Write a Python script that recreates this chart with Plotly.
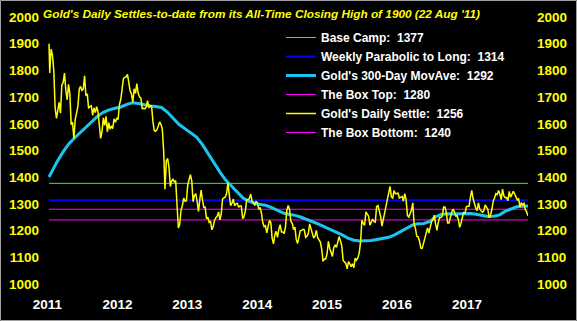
import plotly.graph_objects as go
import pandas as pd

# ---------------- data ----------------
start_date = "2011-08-22"
end_date = "2018-06-29"

# Gold settles: first value = all-time closing high (22 Aug 2011), then weekly (Fridays)
gold_2011 = [1900, 1790, 1880, 1857, 1800, 1660, 1620, 1645, 1680, 1640, 1745,
             1755, 1790, 1725, 1690, 1748, 1712, 1597, 1606, 1545]
gold_2012 = [1617, 1640, 1665, 1730, 1740, 1725, 1730, 1780, 1705, 1712, 1658, 1665, 1668,
             1632, 1660, 1642, 1664, 1645, 1580, 1545, 1572, 1622, 1594, 1628, 1570, 1604,
             1580, 1592, 1582, 1619, 1606, 1620, 1616, 1672, 1691, 1737, 1770, 1774, 1776,
             1785, 1759, 1723, 1712, 1680, 1731, 1714, 1751, 1714, 1701, 1696, 1657, 1658]
gold_2013 = [1656, 1662, 1687, 1660, 1669, 1667, 1609, 1575, 1572, 1578, 1592, 1607, 1598,
             1581, 1501, 1355, 1462, 1470, 1437, 1365, 1386, 1392, 1383, 1387, 1297, 1210,
             1223, 1277, 1294, 1322, 1310, 1312, 1371, 1398, 1410, 1386, 1308, 1333, 1337,
             1310, 1272, 1315, 1352, 1315, 1287, 1288, 1244, 1250, 1231, 1236, 1203, 1214]
gold_2014 = [1238, 1248, 1254, 1270, 1240, 1262, 1318, 1323, 1326, 1339, 1379, 1334, 1293,
             1303, 1318, 1293, 1300, 1302, 1287, 1293, 1292, 1245, 1252, 1274, 1316, 1316,
             1320, 1337, 1310, 1307, 1294, 1309, 1305, 1280, 1287, 1266, 1230, 1215, 1218,
             1192, 1222, 1238, 1231, 1171, 1150, 1185, 1197, 1175, 1205, 1222, 1195, 1195]
gold_2015 = [1189, 1216, 1277, 1294, 1279, 1234, 1227, 1204, 1213, 1167, 1152, 1182, 1199,
             1201, 1205, 1203, 1175, 1179, 1189, 1225, 1205, 1190, 1172, 1180, 1201, 1173,
             1164, 1157, 1131, 1085, 1094, 1094, 1113, 1160, 1134, 1121, 1103, 1137, 1145,
             1137, 1156, 1177, 1162, 1142, 1088, 1081, 1077, 1057, 1084, 1075, 1065, 1076]
gold_2016 = [1061, 1097, 1089, 1098, 1116, 1157, 1239, 1227, 1220, 1270, 1259, 1254, 1220,
             1234, 1243, 1234, 1232, 1290, 1294, 1273, 1253, 1217, 1243, 1275, 1297, 1322,
             1340, 1366, 1326, 1322, 1350, 1338, 1339, 1340, 1322, 1324, 1328, 1310, 1338,
             1316, 1257, 1251, 1267, 1276, 1304, 1224, 1207, 1178, 1177, 1161, 1134, 1133, 1152]
gold_2017 = [1173, 1197, 1210, 1191, 1220, 1234, 1239, 1258, 1226, 1201, 1230, 1249, 1249,
             1254, 1288, 1288, 1268, 1228, 1228, 1255, 1268, 1280, 1271, 1255, 1256, 1242,
             1212, 1228, 1254, 1269, 1264, 1290, 1291, 1291, 1325, 1351, 1320, 1297, 1284,
             1275, 1304, 1280, 1272, 1269, 1274, 1296, 1288, 1280, 1248, 1257, 1278, 1309]
gold_2018 = [1322, 1338, 1335, 1350, 1337, 1316, 1355, 1330, 1323, 1324, 1312, 1347, 1325,
             1335, 1347, 1338, 1323, 1315, 1320, 1289, 1303, 1298, 1302, 1278, 1270, 1256]

# 300-day moving average: start, first of each month Sep 2011 .. Jun 2018, end
movave = [1401,
          1415, 1455, 1492, 1523,
          1546, 1567, 1589, 1610, 1628, 1643, 1652, 1658, 1663, 1673, 1679, 1676,
          1671, 1667, 1665, 1661, 1644, 1622, 1598, 1582, 1567, 1550, 1522, 1488,
          1451, 1418, 1390, 1366, 1343, 1322, 1310, 1301, 1298, 1294, 1285, 1275,
          1265, 1260, 1257, 1250, 1242, 1233, 1224, 1214, 1204, 1195, 1184, 1172,
          1164, 1161, 1161, 1163, 1167, 1171, 1175, 1184, 1196, 1208, 1220, 1226,
          1227, 1234, 1251, 1260, 1263, 1262, 1262, 1263, 1264, 1261, 1257, 1253,
          1254, 1259, 1272, 1282, 1289, 1291,
          1292]

base_camp = 1377
weekly_parabolic = 1314
box_top = 1280
box_bottom = 1240
gold_last = 1256
movave_last = 1292
all_time_high = 1900

year_labels = ["2011", "2012", "2013", "2014", "2015", "2016", "2017"]
tick_day = "-08-14"

# ---------------- build ----------------
gold = gold_2011 + gold_2012 + gold_2013 + gold_2014 + gold_2015 + gold_2016 + gold_2017 + gold_2018
weekly = pd.date_range("2011-08-26", end_date, freq="W-FRI")
gold_dates = [start_date] + [d.strftime("%Y-%m-%d") for d in weekly]
assert len(gold) == len(gold_dates), (len(gold), len(gold_dates))

monthly = pd.date_range("2011-09-01", "2018-06-01", freq="MS")
ma_dates = [start_date] + [d.strftime("%Y-%m-%d") for d in monthly] + [end_date]
assert len(ma_dates) == len(movave), (len(ma_dates), len(movave))

W, H = 577, 321
L, R, T, B = 46, 528, 17, 284
data_left_px = 49
days_total = (pd.Timestamp(end_date) - pd.Timestamp(start_date)).days
px_per_day = (R - data_left_px) / days_total
x_range_start = (pd.Timestamp(start_date)
                 - pd.Timedelta(hours=round(24 * (data_left_px - L) / px_per_day))).strftime("%Y-%m-%d %H:%M:%S")

def px_x(p):
    return (p - L) / (R - L)

def px_y(p):
    return (B - p) / (B - T)

FONT = "Liberation Sans, Arial, sans-serif"

fig = go.Figure()
span = [start_date, end_date]

def hline(val, name, color, width, rank):
    fig.add_trace(go.Scatter(x=span, y=[val, val], mode="lines", name=name,
                             line=dict(color=color, width=width), legendrank=rank,
                             hoverinfo="skip"))

hline(base_camp, f"Base Camp:\u00a0 {base_camp}", "#22FF22", 1, 1)
hline(weekly_parabolic, f"Weekly Parabolic to Long:\u00a0 {weekly_parabolic}", "#0000FF", 2, 2)
hline(box_top, f"The Box Top:\u00a0 {box_top}", "#FF00FF", 1, 4)
hline(box_bottom, f"The Box Bottom:\u00a0 {box_bottom}", "#FF00FF", 1, 6)

fig.add_trace(go.Scatter(x=ma_dates, y=movave, mode="lines",
                         name=f"Gold's 300-Day MovAve:\u00a0 {movave_last}",
                         line=dict(color="#19C6F2", width=3), legendrank=3))
fig.add_trace(go.Scatter(x=gold_dates, y=gold, mode="lines",
                         name=f"Gold's Daily Settle:\u00a0 {gold_last}",
                         line=dict(color="#FFFF00", width=1.5), legendrank=5))
# invisible trace on yaxis2 so the right axis draws
fig.add_trace(go.Scatter(x=[start_date], y=[1000], yaxis="y2", mode="markers",
                         marker=dict(opacity=0), showlegend=False, hoverinfo="skip"))

ytick_font = dict(family=FONT, size=13.5, color="#FFFF00", weight="bold")

fig.update_layout(
    width=W, height=H, autosize=False,
    margin=dict(l=L, r=W - R, t=T, b=H - B, pad=0, autoexpand=False),
    paper_bgcolor="black", plot_bgcolor="black",
    showlegend=True,
    legend=dict(x=px_x(281), y=px_y(23),
                xanchor="left", yanchor="top", bgcolor="rgba(0,0,0,0)",
                font=dict(family=FONT, size=12, color="white", weight="bold"),
                borderwidth=0),
    xaxis=dict(type="date", range=[x_range_start, end_date],
               tickvals=[y + tick_day for y in year_labels], ticktext=year_labels,
               showgrid=False, zeroline=False, showline=False, ticks="",
               tickfont=dict(family=FONT, size=13.5, color="white", weight="bold"),
               ticklabelstandoff=10, automargin=False),
    yaxis=dict(range=[1000, 2000], tick0=1000, dtick=100, showgrid=False, zeroline=False,
               showline=False, ticks="", tickfont=ytick_font, ticklabelstandoff=6,
               automargin=False),
    yaxis2=dict(range=[1000, 2000], tick0=1000, dtick=100, overlaying="y", side="right",
                showgrid=False, zeroline=False, showline=False, ticks="",
                tickfont=ytick_font, ticklabelstandoff=8, automargin=False),
    annotations=[dict(xref="paper", yref="paper", x=px_x(261.5), y=px_y(14),
                      xanchor="center", yanchor="middle", showarrow=False,
                      text=f"Gold's Daily Settles-to-date from its All-Time Closing High of {all_time_high} (22 Aug '11)",
                      font=dict(family=FONT, size=11.8, color="#FFFF00", weight="bold", style="italic"))],
    shapes=[dict(type="rect", xref="paper", yref="paper", x0=px_x(0.5), x1=px_x(576.5),
                 y0=px_y(320.5), y1=px_y(0.5), line=dict(color="#A0A0A0", width=1),
                 layer="above")],
)

fig.write_html("out.html")
